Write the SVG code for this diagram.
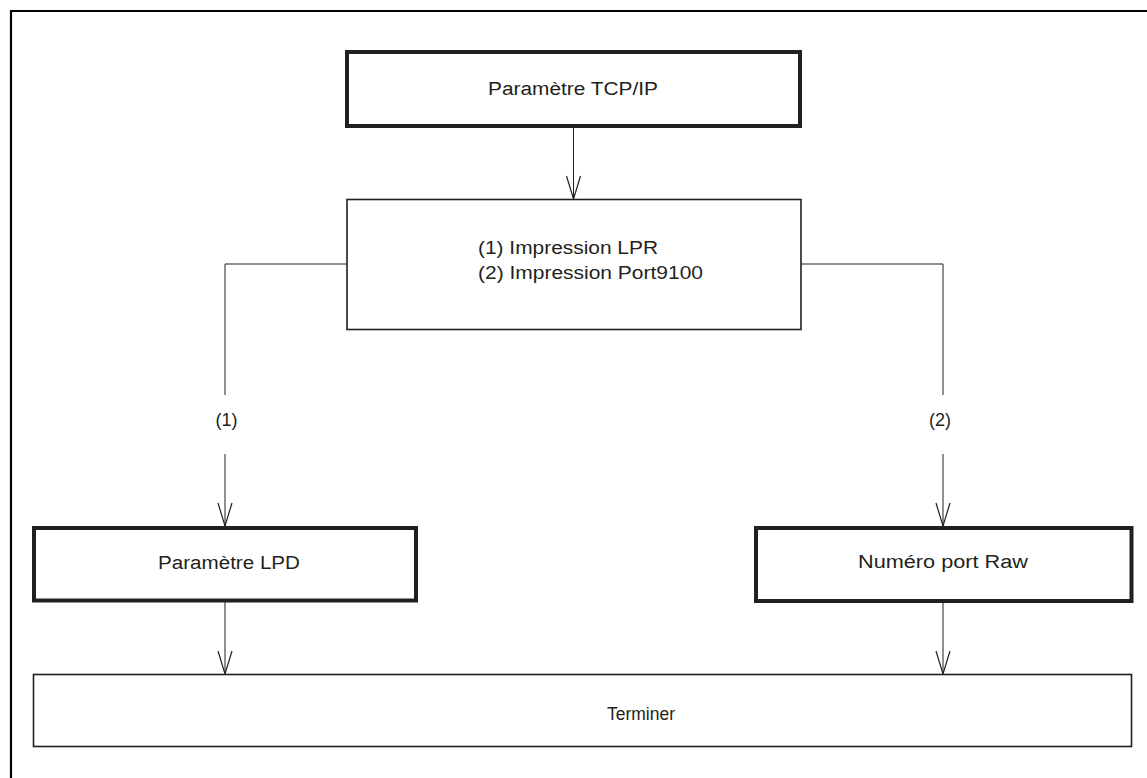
<svg xmlns="http://www.w3.org/2000/svg" width="1147" height="778" viewBox="0 0 1147 778">
  <style>
    .thick { fill: #ffffff; stroke: #231f20; stroke-width: 4; }
    .thin { fill: #ffffff; stroke: #231f20; stroke-width: 1.6; }
    .conn { fill: none; stroke: #231f20; stroke-width: 1; }
    .lbl { font-family: "Liberation Sans", Arial, Helvetica, sans-serif; font-size: 18px; fill: #231f20; }
  </style>
  <defs>
    <marker id="arr" markerUnits="userSpaceOnUse" markerWidth="26" markerHeight="16" refX="24" refY="8" orient="auto" viewBox="0 0 26 16">
      <path d="M1,1 L24,8 L1,15" fill="none" stroke="#231f20" stroke-width="1.2"/>
    </marker>
  </defs>
  <rect x="0" y="0" width="1147" height="778" fill="#ffffff"/>
  <path d="M11,778 V11 H1147" fill="none" stroke="#000000" stroke-width="2.2"/>

  <g id="connectors">
    <line class="conn" x1="573.5" y1="128" x2="573.5" y2="199" marker-end="url(#arr)"/>
    <path class="conn" d="M347,264 H225 V395"/>
    <line class="conn" x1="225" y1="454" x2="225" y2="526" marker-end="url(#arr)"/>
    <path class="conn" d="M801,264 H943 V395"/>
    <line class="conn" x1="943" y1="454" x2="943" y2="526" marker-end="url(#arr)"/>
    <line class="conn" x1="225" y1="602" x2="225" y2="674" marker-end="url(#arr)"/>
    <line class="conn" x1="943" y1="603" x2="943" y2="674" marker-end="url(#arr)"/>
    <text class="lbl" x="226.5" y="426" text-anchor="middle" textLength="22" lengthAdjust="spacingAndGlyphs">(1)</text>
    <text class="lbl" x="940" y="426" text-anchor="middle" textLength="22" lengthAdjust="spacingAndGlyphs">(2)</text>
  </g>

  <g id="node-tcpip">
    <rect class="thick" x="347" y="52" width="453" height="74"/>
    <text class="lbl" x="573" y="95" text-anchor="middle" textLength="170" lengthAdjust="spacingAndGlyphs">Paramètre TCP/IP</text>
  </g>

  <g id="node-impression">
    <rect class="thin" x="347" y="199.5" width="454" height="130"/>
    <text class="lbl" x="478" y="254" textLength="180" lengthAdjust="spacingAndGlyphs">(1) Impression LPR</text>
    <text class="lbl" x="478" y="279" textLength="225" lengthAdjust="spacingAndGlyphs">(2) Impression Port9100</text>
  </g>

  <g id="node-lpd">
    <rect class="thick" x="34" y="528" width="382" height="72.5"/>
    <text class="lbl" x="229" y="569" text-anchor="middle" textLength="142" lengthAdjust="spacingAndGlyphs">Paramètre LPD</text>
  </g>

  <g id="node-raw">
    <rect class="thick" x="756" y="528" width="375.5" height="73"/>
    <text class="lbl" x="943" y="568" text-anchor="middle" textLength="170" lengthAdjust="spacingAndGlyphs">Numéro port Raw</text>
  </g>

  <g id="node-terminer">
    <rect class="thin" x="33.5" y="674.5" width="1098" height="72"/>
    <text class="lbl" x="641" y="720" text-anchor="middle" textLength="68" lengthAdjust="spacingAndGlyphs">Terminer</text>
  </g>
</svg>
